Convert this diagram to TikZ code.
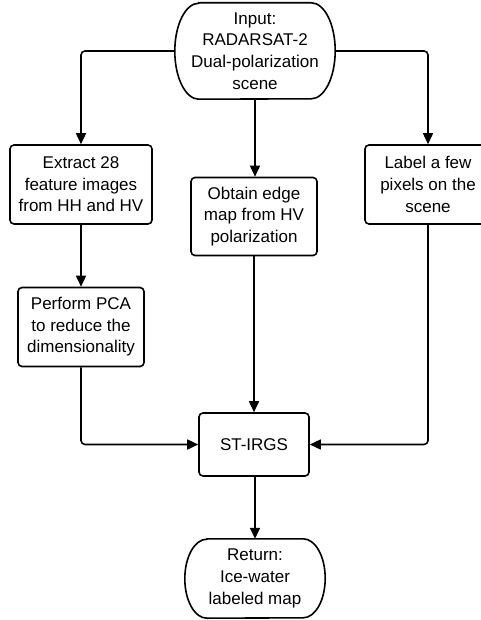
\documentclass[tikz,border=0pt]{standalone}
\usepackage{fontspec}
\setmainfont{Liberation Sans}
\usetikzlibrary{arrows.meta}
\newcommand\termoutline[3]{% node name, x radius, y radius
  \draw[line width=1.6pt] ([xshift=#2]#1.north west) -- ([xshift=-#2]#1.north east)
    arc[start angle=90,end angle=-90,x radius=#2,y radius=#3]
    -- ([xshift=#2]#1.south west)
    arc[start angle=270,end angle=90,x radius=#2,y radius=#3] -- cycle;}
\begin{document}
\begin{tikzpicture}[x=1pt,y=1pt,
  every node/.style={font=\fontsize{17}{21.6}\selectfont, align=center, inner sep=0pt},
  proc/.style={draw, line width=1.6pt, rounded corners=4pt, rectangle},
  term/.style={rectangle},
  conn/.style={line width=1.6pt, rounded corners=4pt, -{Triangle[length=11pt,width=10pt]}}
]
\useasboundingbox (0,0) rectangle (480,-620);
\node[term, minimum width=160pt, minimum height=96pt] (in) at (255,-51) {Input:\\RADARSAT-2\\Dual-polarization\\scene};
\termoutline{in}{24pt}{48pt}
\node[proc, minimum width=142pt, minimum height=79pt] (ext) at (81,-184.5) {Extract 28\\feature images\\from HH and HV};
\node[proc, minimum width=126pt, minimum height=78pt] (edge) at (254,-216.5) {Obtain edge\\map from HV\\polarization};
\node[proc, minimum width=126pt, minimum height=79pt] (lab) at (428,-184.5) {Label a few\\pixels on the\\scene};
\node[proc, minimum width=126pt, minimum height=79pt] (pca) at (81,-327) {Perform PCA\\to reduce the\\dimensionality};
\node[proc, minimum width=110pt, minimum height=63pt] (st) at (254,-444.5) {ST-IRGS};
\node[term, minimum width=140pt, minimum height=79pt] (ret) at (255,-578.5) {Return:\\Ice-water\\labeled map};
\termoutline{ret}{22pt}{39.5pt}
\draw[conn] (in.west) -| (ext.north);
\draw[conn] (in.east) -| (lab.north);
\draw[conn] (in.south) -- (edge.north -| in.south);
\draw[conn] (ext.south) -- (pca.north);
\draw[conn] (pca.south) |- (st.west);
\draw[conn] (lab.south) |- (st.east);
\draw[conn] (edge.south) -- (st.north);
\draw[conn] (st.south -| ret.north) -- (ret.north);
\end{tikzpicture}
\end{document}
